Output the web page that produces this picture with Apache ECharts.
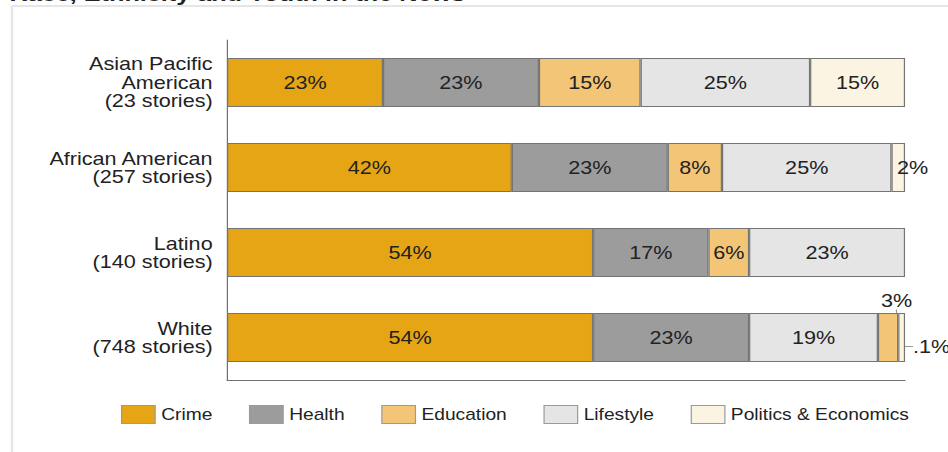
<!DOCTYPE html>
<html>
<head>
<meta charset="utf-8">
<script src="https://cdn.jsdelivr.net/npm/echarts@6/dist/echarts.min.js"></script>
<style>
html, body { margin: 0; padding: 0; background: #fff; overflow: hidden; }
/* the source picture is stretched sideways, so draw narrow and widen it */
#chart { width: 790px; height: 452px; transform: scaleX(1.2); transform-origin: 0 0; }
</style>
</head>
<body>
<div id="chart"></div>
<script>
var categories = ['Asian Pacific\nAmerican\n(23 stories)', 'African American\n(257 stories)', 'Latino\n(140 stories)', 'White\n(748 stories)'];

// segment widths (share of stories, %)
var crime     = [23, 42, 54, 54];
var health    = [23, 23, 17, 23];
var education = [15, 8, 6, '-'];
var lifestyle = [25, 25, 23, 19];
var educationWhite = ['-', '-', '-', 3];   // White row puts Education after Lifestyle
var politics  = [14, 2, '-', 1];

// printed labels
var crimeLabels     = ['23%', '42%', '54%', '54%'];
var healthLabels    = ['23%', '23%', '17%', '23%'];
var educationLabels = ['15%', '8%', '6%', ''];
var lifestyleLabels = ['25%', '25%', '23%', '19%'];
var educationWhiteLabels = ['', '', '', '3%'];
var politicsLabels  = ['15%', '2%', '', '.1%'];

var legendNames = ['Crime', 'Health', 'Education', 'Lifestyle', 'Politics & Economics'];
var colors = {
	'Crime': '#E6A514',
	'Health': '#9C9C9C',
	'Education': '#F3C677',
	'Lifestyle': '#E5E5E5',
	'Politics & Economics': '#FCF4E3'
};

var FONT = "'Liberation Sans', Arial, sans-serif";
var chart = echarts.init(document.getElementById('chart'), null, { renderer: 'svg' });

function bar(name, data, labels, extra) {
	var s = {
		name: name,
		type: 'bar',
		stack: 'all',
		barWidth: 49,
		data: data,
		itemStyle: { color: colors[name], borderColor: '#747474', borderWidth: 1 },
		label: {
			show: true,
			position: 'inside',
			color: '#222',
			fontSize: 18,
			fontFamily: FONT,
			formatter: function (p) { return labels[p.dataIndex]; }
		},
		emphasis: { disabled: true }
	};
	return Object.assign(s, extra || {});
}

var series = [
	bar('Crime', crime, crimeLabels),
	bar('Health', health, healthLabels),
	bar('Education', education, educationLabels),
	bar('Lifestyle', lifestyle, lifestyleLabels),
	bar('Education', educationWhite, educationWhiteLabels, {
		labelLayout: function (p) { return { dx: 7, dy: -37 }; },
		labelLine: { show: true, lineStyle: { color: '#9a9a9a', width: 1 } }
	}),
	bar('Politics & Economics', politics.map(function (v, i) {
		return { value: v, labelLine: { show: i === 3 } };
	}), politicsLabels, {
		labelLayout: function (p) {
			if (p.dataIndex === 1) return { dx: 12 };
			if (p.dataIndex === 3) return { dx: 25, dy: 9 };
			return {};
		},
		labelLine: { show: true, lineStyle: { color: '#9a9a9a', width: 1 } }
	})
];

chart.setOption({
	animation: false,
	backgroundColor: '#fff',
	textStyle: { fontFamily: FONT },
	graphic: [
		{ type: 'line', shape: { x1: 10, y1: 6, x2: 790, y2: 6 }, style: { stroke: '#e6e6e6', lineWidth: 2 } },
		{ type: 'line', shape: { x1: 10, y1: 6, x2: 10, y2: 452 }, style: { stroke: '#e6e6e6', lineWidth: 2 } },
		{
			type: 'text', left: 8, top: -17,
			style: { text: 'Race, Ethnicity and Youth in the News', fontSize: 21, fontWeight: 'bold', fill: '#222', fontFamily: FONT }
		}
	],
	legend: {
		data: legendNames,
		left: 95.8,
		top: 400,
		itemWidth: 28,
		itemHeight: 18,
		itemGap: 30.5,
		icon: 'rect',
		selectedMode: false,
		itemStyle: { borderColor: '#9a9a9a', borderWidth: 1 },
		textStyle: { fontSize: 16, color: '#222', fontFamily: FONT }
	},
	grid: { left: 189.2, right: 35.8, top: 40, bottom: 72, containLabel: false },
	xAxis: {
		type: 'value',
		min: 0,
		max: 100,
		axisLine: { show: true, lineStyle: { color: '#707070', width: 1 } },
		axisTick: { show: false },
		axisLabel: { show: false },
		splitLine: { show: false }
	},
	yAxis: {
		type: 'category',
		inverse: true,
		data: categories,
		axisLine: { show: true, lineStyle: { color: '#707070', width: 1 } },
		axisTick: { show: false },
		axisLabel: { color: '#222', fontSize: 18, lineHeight: 18.5, margin: 12, fontFamily: FONT, align: 'right' }
	},
	series: series
});
</script>
</body>
</html>
